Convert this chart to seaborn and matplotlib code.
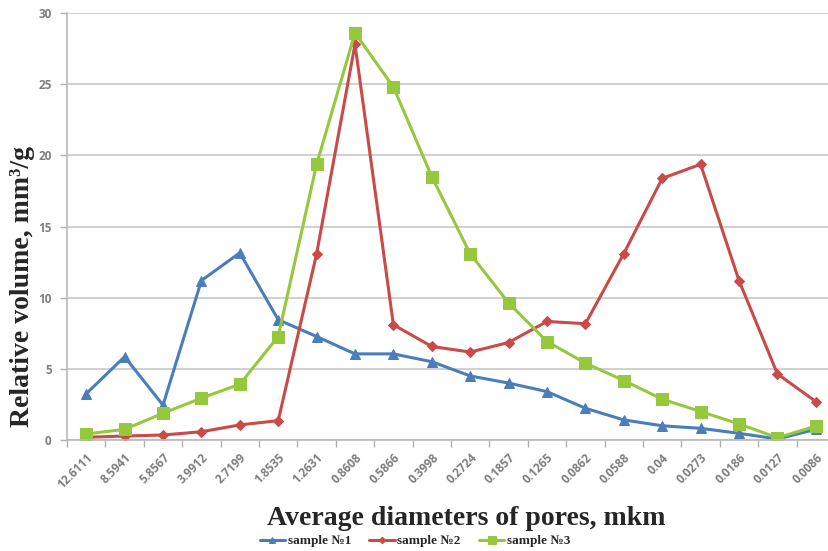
import numpy as np
import pandas as pd
import matplotlib
matplotlib.use("Agg")
import matplotlib.pyplot as plt
import seaborn as sns
from matplotlib.ticker import FixedLocator

categories = ["12.6111", "8.5941", "5.8567", "3.9912", "2.7199", "1.8535", "1.2631",
              "0.8608", "0.5866", "0.3998", "0.2724", "0.1857", "0.1265", "0.0862",
              "0.0588", "0.04", "0.0273", "0.0186", "0.0127", "0.0086"]
sample1 = [3.25, 5.85, 2.45, 11.2, 13.15, 8.45, 7.27, 6.05, 6.05, 5.5, 4.5, 4.0, 3.4,
           2.23, 1.41, 1.0, 0.82, 0.47, 0.07, 0.75]
sample2 = [0.19, 0.28, 0.35, 0.58, 1.06, 1.36, 13.08, 27.8, 8.1, 6.57, 6.18, 6.85, 8.33,
           8.17, 13.1, 18.38, 19.37, 11.2, 4.65, 2.7]
sample3 = [0.42, 0.75, 1.88, 2.94, 3.92, 7.27, 19.37, 28.6, 24.8, 18.5, 13.08, 9.63, 6.92,
           5.4, 4.18, 2.87, 2.0, 1.13, 0.16, 0.97]
series_names = ["sample №1", "sample №2", "sample №3"]
yticks = [0, 5, 10, 15, 20, 25, 30]

colors = {"sample №1": "#4A7EBB", "sample №2": "#C94A47", "sample №3": "#96C83E"}
markers = {"sample №1": "^", "sample №2": "D", "sample №3": "s"}
msizes = {"sample №1": 6.5, "sample №2": 5.5, "sample №3": 8.5}

idx = np.arange(len(categories))
df = pd.DataFrame({
    "pos": np.concatenate([idx, idx, idx]),
    "value": sample1 + sample2 + sample3,
    "sample": np.repeat(series_names, len(categories)),
})

sns.set_style("white")
fig = plt.figure(figsize=(8.29, 5.51), dpi=100)
ax = fig.add_axes([67 / 829, 111 / 551, 768 / 829, 427 / 551])

for name in series_names:
    sub = df[df["sample"] == name]
    sns.lineplot(data=sub, x="pos", y="value", ax=ax, color=colors[name],
                 marker=markers[name], markersize=msizes[name], markeredgecolor=colors[name],
                 linewidth=2.2, label=name, sort=False, legend=False)

ax.set_xlim(-0.5, len(categories) - 0.5)
ax.set_ylim(0, 30)
ax.set_yticks(yticks)
ax.set_yticklabels([str(v) for v in yticks], color="#7f7f7f", fontsize=8.5,
                   fontweight="bold", family="Open Sans")
ax.yaxis.grid(True, color="#c8c8c8", linewidth=1.2)
ax.tick_params(axis="y", length=5, color="#b0b0b0", width=1, pad=6, direction="out", left=True)

ax.set_xticks(idx)
ax.set_xticklabels(categories, rotation=45, ha="right", rotation_mode="anchor",
                   color="#7f7f7f", fontsize=8.5, fontweight="bold", family="Open Sans")
ax.tick_params(axis="x", which="major", length=0, pad=8)
ax.xaxis.set_minor_locator(FixedLocator(np.arange(-0.5, len(categories), 1.0)))
ax.tick_params(axis="x", which="minor", length=5, color="#b0b0b0", width=1, direction="out",
               bottom=True)

for s in ["top", "right"]:
    ax.spines[s].set_visible(False)
for s in ["left", "bottom"]:
    ax.spines[s].set_color("#b8b8b8")
    ax.spines[s].set_linewidth(1.2)

ax.set_ylabel("Relative volume, mm³/g", fontsize=20, fontweight="bold",
              family="Liberation Serif")
ax.yaxis.set_label_coords(-0.042, 0.36)
ax.set_xlabel("Average diameters of pores, mkm", fontsize=20, fontweight="bold",
              family="Liberation Serif", labelpad=10)
ax.xaxis.set_label_coords(0.52, -0.155)

handles, labels = ax.get_legend_handles_labels()
fig.legend(handles, labels, loc="center", bbox_to_anchor=(415 / 829, 10 / 551), ncol=3,
           frameon=False, prop={"family": "Liberation Serif", "weight": "bold", "size": 9.5},
           handlelength=1.9, columnspacing=1.4, handletextpad=0.2, markerscale=0.6)

fig.savefig("out.png", dpi=100)
